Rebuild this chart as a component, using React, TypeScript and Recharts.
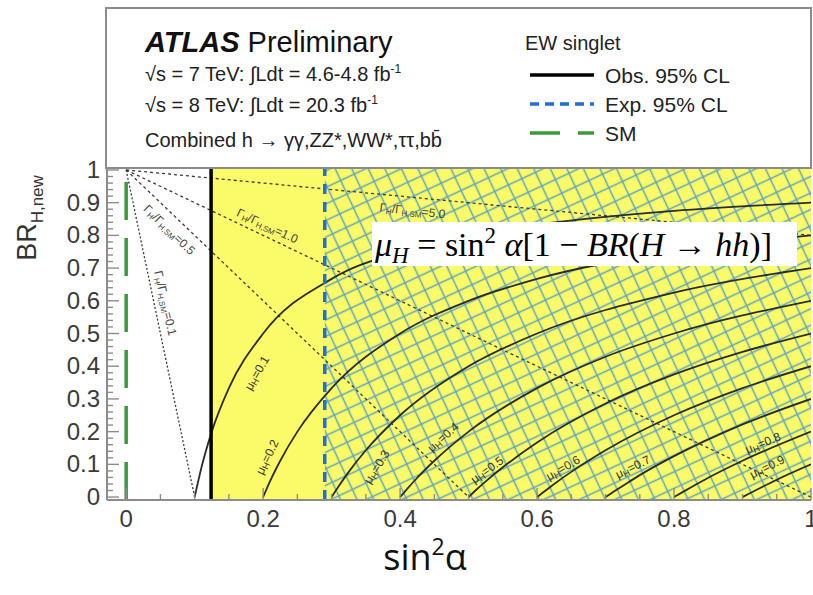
import React from "react";
import { ComposedChart, Line, XAxis, YAxis, ReferenceArea, ReferenceLine, ReferenceDot } from "recharts";

// x: sin^2(alpha), y: BR(H -> hh)
const xMajorTicks = [0, 0.2, 0.4, 0.6, 0.8, 1];
const xTicks = [0, 0.05, 0.1, 0.15, 0.2, 0.25, 0.3, 0.35, 0.4, 0.45, 0.5, 0.55, 0.6, 0.65, 0.7, 0.75, 0.8, 0.85, 0.9, 0.95, 1];
const yMajorTicks = [0, 0.1, 0.2, 0.3, 0.4, 0.5, 0.6, 0.7, 0.8, 0.9, 1];
const yTicks = [
  0, 0.02, 0.04, 0.06, 0.08, 0.1, 0.12, 0.14, 0.16, 0.18, 0.2, 0.22, 0.24, 0.26, 0.28, 0.3, 0.32, 0.34, 0.36, 0.38,
  0.4, 0.42, 0.44, 0.46, 0.48, 0.5, 0.52, 0.54, 0.56, 0.58, 0.6, 0.62, 0.64, 0.66, 0.68, 0.7, 0.72, 0.74, 0.76, 0.78,
  0.8, 0.82, 0.84, 0.86, 0.88, 0.9, 0.92, 0.94, 0.96, 0.98, 1,
];

// 95% CL limits on sin^2(alpha)
const smValue = 0;
const obsLimit = 0.124;
const expLimit = 0.29;

// mu_H contours, [sin2a, BR]
const mu01 = [[0.1, 0], [0.11, 0.091], [0.125, 0.2], [0.15, 0.333], [0.2, 0.5], [0.3, 0.667], [0.4, 0.75], [0.5, 0.8], [0.6, 0.833], [0.8, 0.875], [1, 0.9]];
const mu02 = [[0.2, 0], [0.21, 0.048], [0.225, 0.111], [0.25, 0.2], [0.3, 0.333], [0.4, 0.5], [0.5, 0.6], [0.6, 0.667], [0.8, 0.75], [1, 0.8]];
const mu03 = [[0.3, 0], [0.31, 0.032], [0.325, 0.077], [0.35, 0.143], [0.4, 0.25], [0.5, 0.4], [0.6, 0.5], [0.8, 0.625], [1, 0.7]];
const mu04 = [[0.4, 0], [0.41, 0.024], [0.425, 0.059], [0.45, 0.111], [0.5, 0.2], [0.6, 0.333], [0.7, 0.429], [0.8, 0.5], [1, 0.6]];
const mu05 = [[0.5, 0], [0.51, 0.02], [0.525, 0.048], [0.55, 0.091], [0.6, 0.167], [0.7, 0.286], [0.8, 0.375], [0.9, 0.444], [1, 0.5]];
const mu06 = [[0.6, 0], [0.61, 0.016], [0.625, 0.04], [0.65, 0.077], [0.7, 0.143], [0.8, 0.25], [0.9, 0.333], [1, 0.4]];
const mu07 = [[0.7, 0], [0.71, 0.014], [0.725, 0.034], [0.75, 0.067], [0.8, 0.125], [0.9, 0.222], [1, 0.3]];
const mu08 = [[0.8, 0], [0.81, 0.012], [0.825, 0.03], [0.85, 0.059], [0.9, 0.111], [1, 0.2]];
const mu09 = [[0.9, 0], [0.91, 0.011], [0.925, 0.027], [0.95, 0.053], [1, 0.1]];
const muCurves = [mu01, mu02, mu03, mu04, mu05, mu06, mu07, mu08, mu09];

// Gamma_H / Gamma_H,SM contours
const width01 = [[0, 1], [0.1, 0]];
const width05 = [[0, 1], [0.5, 0]];
const width10 = [[0, 1], [1, 0]];
const width50 = [[0, 1], [1, 0.8]];
const widthLines = [width01, width05, width10, width50];

const toPts = (arr: number[][]) => arr.map(([x, y]) => ({ x, y }));

const xDomain = [-0.028, 1];
const yDomain = [-0.009, 1.006];
const grey = "#8c8c8c";
const tickText = "#3a3a3a";
const sans = "Liberation Sans, Arial, Helvetica, sans-serif";

const isMajor = (v: number, list: number[]) => list.some((t) => Math.abs(t - v) < 1e-6);
const fmt = (v: number) => (v === 0 ? "0" : v === 1 ? "1" : v.toFixed(1));

const XTickBottom = (p: any) => {
  const major = isMajor(p.payload.value, xMajorTicks);
  return (
    <g>
      <line x1={p.x} x2={p.x} y1={p.y} y2={p.y - (major ? 12 : 6)} stroke={grey} strokeWidth={1.4} />
      {major && (
        <text x={p.x} y={p.y + 27} textAnchor="middle" fontSize={24} fill={tickText} fontFamily={sans}>
          {fmt(p.payload.value)}
        </text>
      )}
    </g>
  );
};

const XTickTop = (p: any) => {
  const major = isMajor(p.payload.value, xMajorTicks);
  return <line x1={p.x} x2={p.x} y1={p.y} y2={p.y + (major ? 12 : 6)} stroke={grey} strokeWidth={1.4} />;
};

const YTickLeft = (p: any) => {
  const major = isMajor(p.payload.value, yMajorTicks);
  return (
    <g>
      <line x1={p.x} x2={p.x + (major ? 12 : 6)} y1={p.y} y2={p.y} stroke={grey} strokeWidth={1.4} />
      {major && (
        <text x={p.x - 7} y={p.y + 8} textAnchor="end" fontSize={24} fill={tickText} fontFamily={sans}>
          {fmt(p.payload.value)}
        </text>
      )}
    </g>
  );
};

const YTickRight = (p: any) => {
  const major = isMajor(p.payload.value, yMajorTicks);
  return <line x1={p.x} x2={p.x - (major ? 12 : 6)} y1={p.y} y2={p.y} stroke={grey} strokeWidth={1.4} />;
};

const MuLabel = ({ cx, cy, angle, value }: any) => (
  <text
    x={cx}
    y={cy}
    transform={`rotate(${angle} ${cx} ${cy})`}
    textAnchor="middle"
    dominantBaseline="central"
    fontSize={12}
    fill="#333"
    fontFamily={sans}
  >
    μ<tspan fontSize={9} dy={3}>H</tspan>
    <tspan dy={-3}>={value}</tspan>
  </text>
);

const WidthLabel = ({ cx, cy, angle, value }: any) => (
  <text
    x={cx}
    y={cy}
    transform={`rotate(${angle} ${cx} ${cy})`}
    textAnchor="middle"
    dominantBaseline="central"
    fontSize={12}
    fill="#444"
    fontFamily={sans}
  >
    Γ<tspan fontSize={8} dy={3}>H</tspan>
    <tspan dy={-3}>/Γ</tspan>
    <tspan fontSize={8} dy={3}>H,SM</tspan>
    <tspan dy={-3}>={value}</tspan>
  </text>
);

export default function App() {
  return (
    <div style={{ position: "absolute", left: 0, top: 0, width: 813, height: 595, background: "#fff" }}>
      <ComposedChart width={813} height={595} margin={{ top: 168, right: 2, bottom: 65, left: 47 }}>
        <XAxis
          xAxisId="b"
          dataKey="x"
          type="number"
          domain={xDomain}
          allowDataOverflow
          ticks={xTicks}
          interval={0}
          tickSize={0}
          tickMargin={0}
          height={30}
          axisLine={{ stroke: grey, strokeWidth: 2 }}
          tickLine={false}
          tick={<XTickBottom />}
        />
        <XAxis
          xAxisId="t"
          orientation="top"
          dataKey="x"
          type="number"
          domain={xDomain}
          allowDataOverflow
          ticks={xTicks}
          interval={0}
          tickSize={0}
          tickMargin={0}
          height={0}
          axisLine={{ stroke: grey, strokeWidth: 2 }}
          tickLine={false}
          tick={<XTickTop />}
        />
        <YAxis
          yAxisId="l"
          type="number"
          domain={yDomain}
          allowDataOverflow
          ticks={yTicks}
          interval={0}
          tickSize={0}
          tickMargin={0}
          width={60}
          axisLine={{ stroke: grey, strokeWidth: 2 }}
          tickLine={false}
          tick={<YTickLeft />}
        />
        <YAxis
          yAxisId="r"
          orientation="right"
          type="number"
          domain={yDomain}
          allowDataOverflow
          ticks={yTicks}
          interval={0}
          tickSize={0}
          tickMargin={0}
          width={0}
          axisLine={{ stroke: grey, strokeWidth: 2 }}
          tickLine={false}
          tick={<YTickRight />}
        />

        <ReferenceArea xAxisId="b" yAxisId="l" x1={obsLimit} x2={1} y1={yDomain[0]} y2={yDomain[1]} fill="#fbfa68" fillOpacity={1} stroke="none" />
        <ReferenceArea xAxisId="b" yAxisId="l" x1={expLimit} x2={1} y1={yDomain[0]} y2={yDomain[1]} fill="url(#hatch)" fillOpacity={1} stroke="none" />

        {widthLines.map((w, i) => (
          <Line
            key={`w${i}`}
            xAxisId="b"
            yAxisId="l"
            data={toPts(w)}
            dataKey="y"
            type="linear"
            dot={false}
            stroke="#3a3a3a"
            strokeWidth={1.3}
            strokeDasharray={i === 0 ? "2 2" : "3 3"}
            isAnimationActive={false}
          />
        ))}
        {muCurves.map((c, i) => (
          <Line
            key={`m${i}`}
            xAxisId="b"
            yAxisId="l"
            data={toPts(c)}
            dataKey="y"
            type="monotone"
            dot={false}
            stroke="#2b2b2b"
            strokeWidth={1.8}
            isAnimationActive={false}
          />
        ))}

        <ReferenceLine xAxisId="b" yAxisId="l" x={smValue} stroke="#3b9a3b" strokeWidth={3.5} strokeDasharray="38 18" />
        <ReferenceLine xAxisId="b" yAxisId="l" x={obsLimit} stroke="#000" strokeWidth={3.5} />
        <ReferenceLine xAxisId="b" yAxisId="l" x={expLimit} stroke="#1f6fd4" strokeWidth={3.5} strokeDasharray="10 8" />

        <ReferenceDot xAxisId="b" yAxisId="l" x={0.191} y={0.379} r={1} shape={(p: any) => <MuLabel cx={p.cx} cy={p.cy} angle={-60} value="0.1" />} />
        <ReferenceDot xAxisId="b" yAxisId="l" x={0.206} y={0.122} r={1} shape={(p: any) => <MuLabel cx={p.cx} cy={p.cy} angle={-64} value="0.2" />} />
        <ReferenceDot xAxisId="b" yAxisId="l" x={0.366} y={0.092} r={1} shape={(p: any) => <MuLabel cx={p.cx} cy={p.cy} angle={-58} value="0.3" />} />
        <ReferenceDot xAxisId="b" yAxisId="l" x={0.463} y={0.183} r={1} shape={(p: any) => <MuLabel cx={p.cx} cy={p.cy} angle={-42} value="0.4" />} />
        <ReferenceDot xAxisId="b" yAxisId="l" x={0.527} y={0.083} r={1} shape={(p: any) => <MuLabel cx={p.cx} cy={p.cy} angle={-36} value="0.5" />} />
        <ReferenceDot xAxisId="b" yAxisId="l" x={0.638} y={0.089} r={1} shape={(p: any) => <MuLabel cx={p.cx} cy={p.cy} angle={-30} value="0.6" />} />
        <ReferenceDot xAxisId="b" yAxisId="l" x={0.74} y={0.092} r={1} shape={(p: any) => <MuLabel cx={p.cx} cy={p.cy} angle={-26} value="0.7" />} />
        <ReferenceDot xAxisId="b" yAxisId="l" x={0.93} y={0.165} r={1} shape={(p: any) => <MuLabel cx={p.cx} cy={p.cy} angle={-22} value="0.8" />} />
        <ReferenceDot xAxisId="b" yAxisId="l" x={0.936} y={0.092} r={1} shape={(p: any) => <MuLabel cx={p.cx} cy={p.cy} angle={-26} value="0.9" />} />

        <ReferenceDot xAxisId="b" yAxisId="l" x={0.057} y={0.593} r={1} shape={(p: any) => <WidthLabel cx={p.cx} cy={p.cy} angle={77} value="0.1" />} />
        <ReferenceDot xAxisId="b" yAxisId="l" x={0.063} y={0.817} r={1} shape={(p: any) => <WidthLabel cx={p.cx} cy={p.cy} angle={44} value="0.5" />} />
        <ReferenceDot xAxisId="b" yAxisId="l" x={0.206} y={0.829} r={1} shape={(p: any) => <WidthLabel cx={p.cx} cy={p.cy} angle={25} value="1.0" />} />
        <ReferenceDot xAxisId="b" yAxisId="l" x={0.418} y={0.875} r={1} shape={(p: any) => <WidthLabel cx={p.cx} cy={p.cy} angle={6} value="5.0" />} />
      </ComposedChart>

      <svg width={813} height={595} style={{ position: "absolute", left: 0, top: 0, pointerEvents: "none" }}>
        <defs>
          <pattern id="hatch" width="15" height="15" patternUnits="userSpaceOnUse" patternTransform="rotate(-25)">
            <path d="M0 7.5 H15 M7.5 0 V15" stroke="#5fa5bd" strokeWidth={1.5} fill="none" />
          </pattern>
        </defs>

        {/* legend frame */}
        <rect x={106} y={8} width={705} height={160} fill="none" stroke={grey} strokeWidth={2} />
        <text x={145} y={52} fontSize={29} fill="#111" fontFamily={sans}>
          <tspan fontWeight="bold" fontStyle="italic">ATLAS</tspan>
          <tspan> Preliminary</tspan>
        </text>
        <text x={145} y={81} fontSize={20} fill="#222" fontFamily={sans}>
          √s = 7 TeV: ∫Ldt = 4.6-4.8 fb<tspan fontSize={12} dy={-8}>-1</tspan>
        </text>
        <text x={145} y={112} fontSize={20} fill="#222" fontFamily={sans}>
          √s = 8 TeV: ∫Ldt = 20.3 fb<tspan fontSize={12} dy={-8}>-1</tspan>
        </text>
        <text x={145} y={147} fontSize={20} fill="#222" fontFamily={sans}>
          Combined h → γγ,ZZ*,WW*,ττ,bb̄
        </text>

        <text x={525} y={50} fontSize={20} fill="#222" fontFamily={sans}>EW singlet</text>
        <line x1={530} x2={594} y1={75} y2={75} stroke="#000" strokeWidth={3.5} />
        <text x={605} y={83} fontSize={21} fill="#222" fontFamily={sans}>Obs. 95% CL</text>
        <line x1={530} x2={594} y1={104} y2={104} stroke="#1f6fd4" strokeWidth={3.5} strokeDasharray="9 6" />
        <text x={605} y={112} fontSize={21} fill="#222" fontFamily={sans}>Exp. 95% CL</text>
        <line x1={530} x2={594} y1={133} y2={133} stroke="#3b9a3b" strokeWidth={3.5} strokeDasharray="30 18" />
        <text x={605} y={141} fontSize={21} fill="#222" fontFamily={sans}>SM</text>

        {/* formula box */}
        <rect x={372} y={222} width={425} height={44} fill="#fff" />
        <text x={375} y={256} fontSize={34} fill="#000" fontFamily="Liberation Serif, DejaVu Serif, serif">
          <tspan fontStyle="italic">μ</tspan>
          <tspan fontStyle="italic" fontSize={23} dy={7}>H</tspan>
          <tspan dy={-7}> = sin</tspan>
          <tspan fontSize={23} dy={-13}>2</tspan>
          <tspan dy={13} fontStyle="italic"> α</tspan>
          <tspan>[1 − </tspan>
          <tspan fontStyle="italic">BR</tspan>
          <tspan>(</tspan>
          <tspan fontStyle="italic">H</tspan>
          <tspan> → </tspan>
          <tspan fontStyle="italic">hh</tspan>
          <tspan>)]</tspan>
        </text>

        {/* axis titles */}
        <text transform="rotate(-90 36 218)" x={36} y={218} textAnchor="middle" fontSize={27} fill="#333" fontFamily={sans}>
          BR<tspan fontSize={17} dy={7}>H,new</tspan>
        </text>
        <text x={425} y={570} textAnchor="middle" fontSize={36} fill="#111" fontFamily="Open Sans, Noto Sans, sans-serif">
          sin<tspan fontSize={23} dy={-15}>2</tspan>
          <tspan dy={15}>α</tspan>
        </text>
      </svg>
    </div>
  );
}
